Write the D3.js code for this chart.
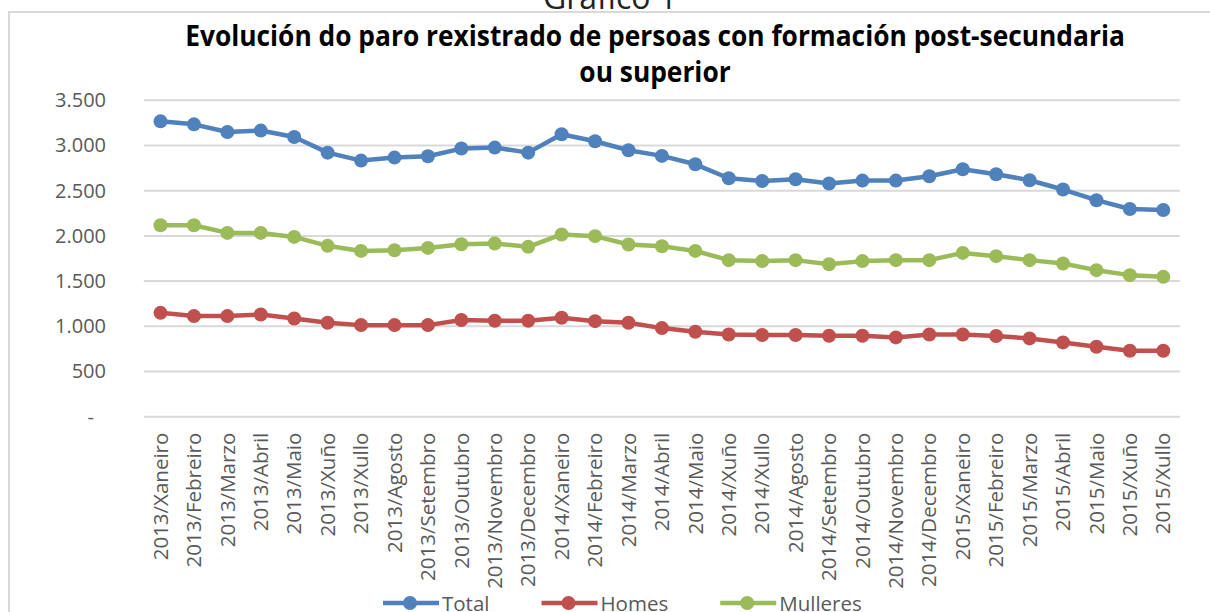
<!DOCTYPE html>
<html>
<head>
<meta charset="utf-8">
<script src="https://cdn.jsdelivr.net/npm/d3@7"></script>
<style>
  html, body { margin: 0; padding: 0; background: #fff; overflow: hidden; }
  svg { display: block; }
  text { font-family: "Open Sans", "Noto Sans", sans-serif; }
</style>
</head>
<body>
<script>
// Data
const months = [
  "2013/Xaneiro", "2013/Febreiro", "2013/Marzo", "2013/Abril", "2013/Maio", "2013/Xuño",
  "2013/Xullo", "2013/Agosto", "2013/Setembro", "2013/Outubro", "2013/Novembro", "2013/Decembro",
  "2014/Xaneiro", "2014/Febreiro", "2014/Marzo", "2014/Abril", "2014/Maio", "2014/Xuño",
  "2014/Xullo", "2014/Agosto", "2014/Setembro", "2014/Outubro", "2014/Novembro", "2014/Decembro",
  "2015/Xaneiro", "2015/Febreiro", "2015/Marzo", "2015/Abril", "2015/Maio", "2015/Xuño", "2015/Xullo"
];
const total = [3267, 3234, 3149, 3165, 3094, 2921, 2833, 2866, 2881, 2966, 2977, 2921,
  3124, 3047, 2947, 2885, 2792, 2638, 2608, 2627, 2579, 2612, 2612, 2660,
  2737, 2682, 2616, 2513, 2395, 2298, 2287];
const homes = [1149, 1113, 1113, 1131, 1087, 1039, 1013, 1013, 1013, 1069, 1061, 1061,
  1094, 1057, 1039, 980, 939, 910, 903, 903, 895, 895, 877, 910,
  910, 892, 866, 822, 774, 729, 729];
const mulleres = [2118, 2118, 2033, 2033, 1989, 1890, 1834, 1842, 1867, 1908, 1916, 1879,
  2016, 1997, 1905, 1885, 1834, 1732, 1721, 1732, 1687, 1721, 1732, 1732,
  1812, 1776, 1732, 1695, 1621, 1566, 1547];
const yTicks = [0, 500, 1000, 1500, 2000, 2500, 3000, 3500];

const series = [
  {name: "Total", values: total, color: "#4f81bd"},
  {name: "Homes", values: homes, color: "#c0504d"},
  {name: "Mulleres", values: mulleres, color: "#9bbb59"}
];

const width = 1210, height = 612;
const svg = d3.select("body").append("svg")
  .attr("width", width)
  .attr("height", height);

// Frame
svg.append("rect")
  .attr("x", 9).attr("y", 12)
  .attr("width", 1300).attr("height", 700)
  .attr("fill", "none")
  .attr("stroke", "#d9d9d9")
  .attr("stroke-width", 2);

// Caption cut at the top
svg.append("text")
  .attr("x", 610).attr("y", 9)
  .attr("text-anchor", "middle")
  .attr("font-size", 32)
  .attr("fill", "#222")
  .text("Gráfico 1");

// Title, squeezed to the width of the original
const titleG = svg.append("g");
const t1 = titleG.append("text")
  .attr("x", 0).attr("y", 46)
  .attr("text-anchor", "middle")
  .attr("font-size", 28).attr("font-weight", "bold")
  .attr("fill", "#000")
  .text("Evolución do paro rexistrado de persoas con formación post-secundaria");
titleG.append("text")
  .attr("x", 0).attr("y", 82)
  .attr("text-anchor", "middle")
  .attr("font-size", 28).attr("font-weight", "bold")
  .attr("fill", "#000")
  .text("ou superior");
const k = 940 / t1.node().getComputedTextLength();
titleG.attr("transform", `translate(655,0) scale(${k},1)`);

// Scales
const x = d3.scaleBand().domain(months).range([143.8, 1180]);
const y = d3.scaleLinear().domain([0, 3500]).range([416.7, 100.3]);
const cx = d => x(d) + x.bandwidth() / 2;

const fmt = d3.formatLocale({decimal: ",", thousands: ".", grouping: [3], currency: ["", ""]}).format(",");

// Gridlines
svg.append("g")
  .selectAll("line")
  .data(yTicks)
  .join("line")
  .attr("x1", 143.8).attr("x2", 1180)
  .attr("y1", d => y(d)).attr("y2", d => y(d))
  .attr("stroke", "#d9d9d9")
  .attr("stroke-width", 2);

// Y axis
const yAxis = svg.append("g")
  .attr("transform", "translate(106,0)")
  .call(d3.axisLeft(y).tickValues(yTicks).tickSize(0).tickPadding(0)
    .tickFormat(d => d === 0 ? "-" : fmt(d)));
yAxis.select(".domain").remove();
yAxis.selectAll("text")
  .attr("font-size", 20)
  .attr("font-family", "'Open Sans', sans-serif")
  .attr("fill", "#595959");
// accounting style: the dash for zero sits left of the digits
yAxis.selectAll(".tick").filter(d => d === 0).select("text").attr("x", -12);

// X axis
const xAxis = svg.append("g")
  .attr("transform", `translate(0,${y(0)})`)
  .call(d3.axisBottom(x).tickSize(0));
xAxis.select(".domain").remove();
xAxis.selectAll("text")
  .attr("transform", "rotate(-90)")
  .attr("x", -16).attr("y", 0).attr("dy", "0.35em")
  .attr("text-anchor", "end")
  .attr("font-size", 20.5)
  .attr("font-family", "'Open Sans', sans-serif")
  .attr("fill", "#595959");

// Lines and markers
const line = d3.line()
  .x((d, i) => cx(months[i]))
  .y(d => y(d));

series.forEach(s => {
  svg.append("path")
    .datum(s.values)
    .attr("d", line)
    .attr("fill", "none")
    .attr("stroke", s.color)
    .attr("stroke-width", 4.5)
    .attr("stroke-linejoin", "round");
  svg.append("g")
    .selectAll("circle")
    .data(s.values)
    .join("circle")
    .attr("cx", (d, i) => cx(months[i]))
    .attr("cy", d => y(d))
    .attr("r", 7)
    .attr("fill", s.color);
});

// Legend
let lx = 383;
const ly = 603;
series.forEach(s => {
  const g = svg.append("g");
  g.append("line")
    .attr("x1", lx).attr("x2", lx + 56)
    .attr("y1", ly).attr("y2", ly)
    .attr("stroke", s.color).attr("stroke-width", 4.5);
  g.append("circle")
    .attr("cx", lx + 27).attr("cy", ly).attr("r", 7)
    .attr("fill", s.color);
  const txt = g.append("text")
    .attr("x", lx + 59).attr("y", 611)
    .attr("font-size", 20.5)
    .attr("fill", "#595959")
    .text(s.name);
  lx += 59 + txt.node().getComputedTextLength() + 52;
});
</script>
</body>
</html>
